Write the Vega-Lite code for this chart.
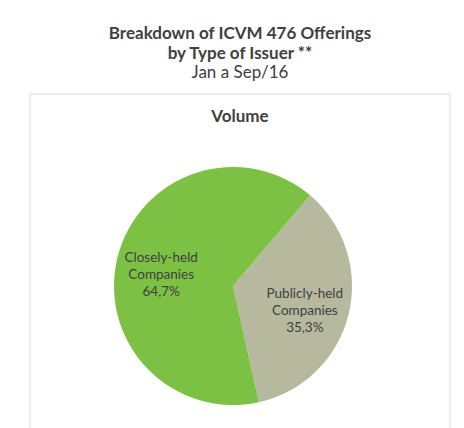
{
  "$schema": "https://vega.github.io/schema/vega-lite/v6.json",
  "padding": {"left": 29, "top": 25, "right": 14, "bottom": 0},
  "background": "white",
  "title": {
    "text": ["Breakdown of ICVM 476 Offerings", "by Type of Issuer **"],
    "subtitle": "Jan a Sep/16",
    "anchor": "middle",
    "font": "Lato",
    "fontSize": 17,
    "fontWeight": "bold",
    "color": "#404040",
    "lineHeight": 20,
    "subtitleFont": "Lato",
    "subtitleFontSize": 17,
    "subtitleColor": "#404040",
    "subtitleFontWeight": "normal",
    "subtitlePadding": 2,
    "offset": 11
  },
  "data": {
    "values": [
      {"type": "Publicly-held Companies", "share": 35.3, "label": "Publicly-held\nCompanies\n35,3%"},
      {"type": "Closely-held Companies", "share": 64.7, "label": "Closely-held\nCompanies\n64,7%"}
    ]
  },
  "vconcat": [
    {
      "width": 420,
      "height": 340,
      "view": {"stroke": "#e8e8e8", "strokeWidth": 1.5},
      "title": {
        "text": "Volume",
        "font": "Lato",
        "fontSize": 17,
        "fontWeight": "bold",
        "color": "#404040",
        "anchor": "middle",
        "offset": -32
      },
      "layer": [
        {
          "mark": {"type": "arc", "outerRadius": 119, "xOffset": -7, "yOffset": 22},
          "encoding": {
            "theta": {"field": "share", "type": "quantitative", "stack": true, "scale": {"range": [0.705, 6.988]}},
            "order": {"field": "share", "type": "quantitative", "sort": "ascending"},
            "color": {
              "field": "type",
              "type": "nominal",
              "scale": {"domain": ["Publicly-held Companies", "Closely-held Companies"], "range": ["#b7b99f", "#7cc143"]},
              "legend": null
            }
          }
        },
        {
          "mark": {"type": "text", "radius": 74, "xOffset": -7, "yOffset": 12, "lineBreak": "\n", "font": "Lato", "fontSize": 13.5, "lineHeight": 17, "color": "#404040", "align": "center", "baseline": "middle"},
          "encoding": {
            "theta": {"field": "share", "type": "quantitative", "stack": true, "scale": {"range": [0.705, 6.988]}},
            "order": {"field": "share", "type": "quantitative", "sort": "ascending"},
            "text": {"field": "label", "type": "nominal"}
          }
        }
      ]
    }
  ]
}
